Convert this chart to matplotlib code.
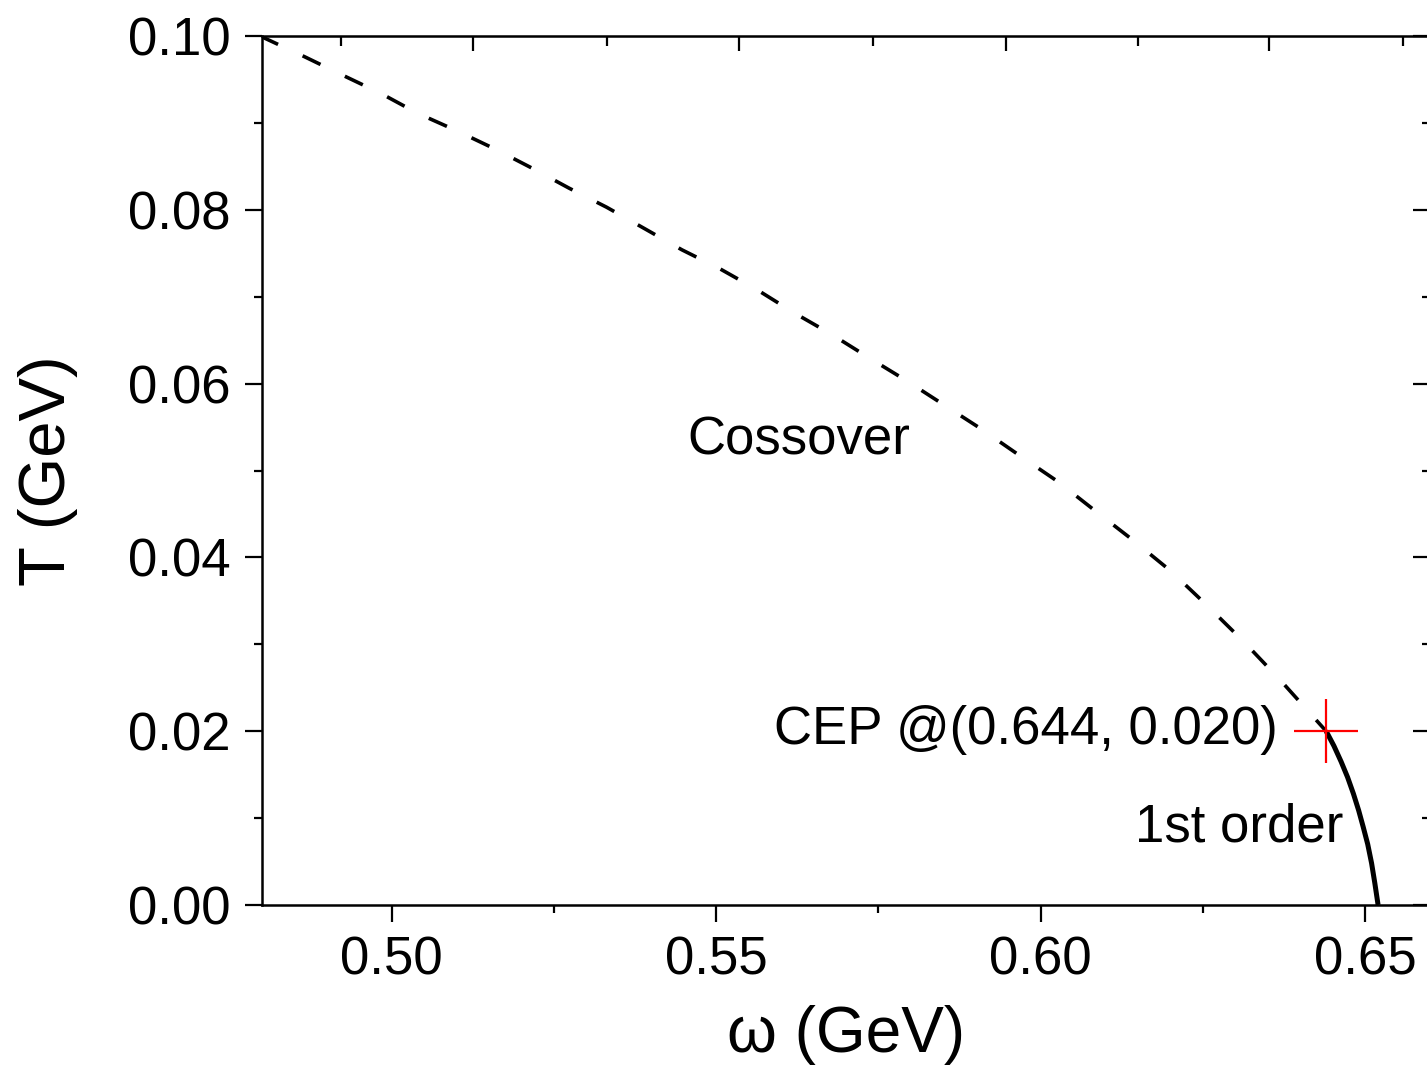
import matplotlib
matplotlib.use("Agg")
import matplotlib.pyplot as plt
from matplotlib.ticker import MultipleLocator

plt.rcParams['font.family'] = ['Liberation Sans', 'DejaVu Sans']

# Crossover line (dashed)
omega_cross = [0.4797, 0.4866, 0.4924, 0.4983, 0.5040, 0.5100, 0.5159, 0.5216,
               0.5273, 0.5331, 0.5388, 0.5447, 0.5506, 0.5563, 0.5621, 0.5677,
               0.5737, 0.5794, 0.5852, 0.5908, 0.5968, 0.6027, 0.6085, 0.6142,
               0.6201, 0.6256, 0.6313, 0.6369, 0.6440]
T_cross = [0.1000, 0.0976, 0.0955, 0.0934, 0.0911, 0.0891, 0.0870, 0.0848,
           0.0825, 0.0803, 0.0779, 0.0754, 0.0732, 0.0708, 0.0681, 0.0657,
           0.0629, 0.0603, 0.0575, 0.0548, 0.0517, 0.0487, 0.0453, 0.0420,
           0.0384, 0.0345, 0.0303, 0.0259, 0.0200]

# First order line (solid)
omega_first = [0.6440, 0.6452, 0.6463, 0.6473, 0.6482, 0.6490, 0.6497,
               0.6504, 0.6510, 0.6515, 0.6520]
T_first = [0.0200, 0.0183, 0.0165, 0.0147, 0.0128, 0.0109, 0.0090,
           0.0070, 0.0048, 0.0025, 0.0000]

# Critical end point
cep = (0.644, 0.020)

# ticks of the unlabeled top axis
top_major = [0.5125, 0.5535, 0.5947, 0.6352]
top_minor = [0.4921, 0.5331, 0.5741, 0.6150, 0.6559]

fig = plt.figure(figsize=(14.27, 10.69), dpi=100)
ax = fig.add_axes([262 / 1427, 1 - 905 / 1069, 1168 / 1427, 869 / 1069])

ax.plot(omega_cross, T_cross, color='black', lw=2.6, dashes=(5.5, 7.5))
ax.plot(omega_first, T_first, color='black', lw=3.6, solid_capstyle='butt')
ax.plot(*cep, marker='+', color='red', markersize=46, markeredgewidth=1.6)

ax.set_xlim(0.48, 0.66)
ax.set_ylim(0.0, 0.10)
ax.xaxis.set_major_locator(MultipleLocator(0.05))
ax.xaxis.set_minor_locator(MultipleLocator(0.025))
ax.yaxis.set_major_locator(MultipleLocator(0.02))
ax.yaxis.set_minor_locator(MultipleLocator(0.01))
ax.xaxis.set_major_formatter(lambda v, p: f"{v:.2f}")
ax.yaxis.set_major_formatter(lambda v, p: f"{v:.2f}")

ax.tick_params(which='major', direction='out', length=12, width=1.6,
               labelsize=38, pad=10)
ax.tick_params(which='minor', direction='out', length=6, width=1.6)
ax.tick_params(axis='y', which='major', length=12.5)
for s in ax.spines.values():
    s.set_linewidth(1.8)

# right side: inward ticks, no labels
axr = ax.secondary_yaxis('right')
axr.yaxis.set_major_locator(MultipleLocator(0.02))
axr.yaxis.set_minor_locator(MultipleLocator(0.01))
axr.tick_params(which='major', direction='in', length=12.5, width=1.6, labelright=False)
axr.tick_params(which='minor', direction='in', length=6, width=1.6)

# top side: inward ticks, no labels
axt = ax.secondary_xaxis('top')
axt.set_xticks(top_major)
axt.set_xticks(top_minor, minor=True)
axt.tick_params(which='major', direction='in', length=11, width=1.6, labeltop=False)
axt.tick_params(which='minor', direction='in', length=7, width=1.6)

ax.set_xlabel('ω (GeV)', fontsize=46, labelpad=14)
ax.set_ylabel('T (GeV)', fontsize=47, labelpad=36)

ax.text(0.5456, 0.0535, 'Cossover', fontsize=38, ha='left', va='center')
ax.text(0.6366, 0.0201, 'CEP @(0.644, 0.020)', fontsize=38, ha='right', va='center')
ax.text(0.6466, 0.0089, '1st order', fontsize=38, ha='right', va='center')

fig.savefig('out.png', dpi=100)
